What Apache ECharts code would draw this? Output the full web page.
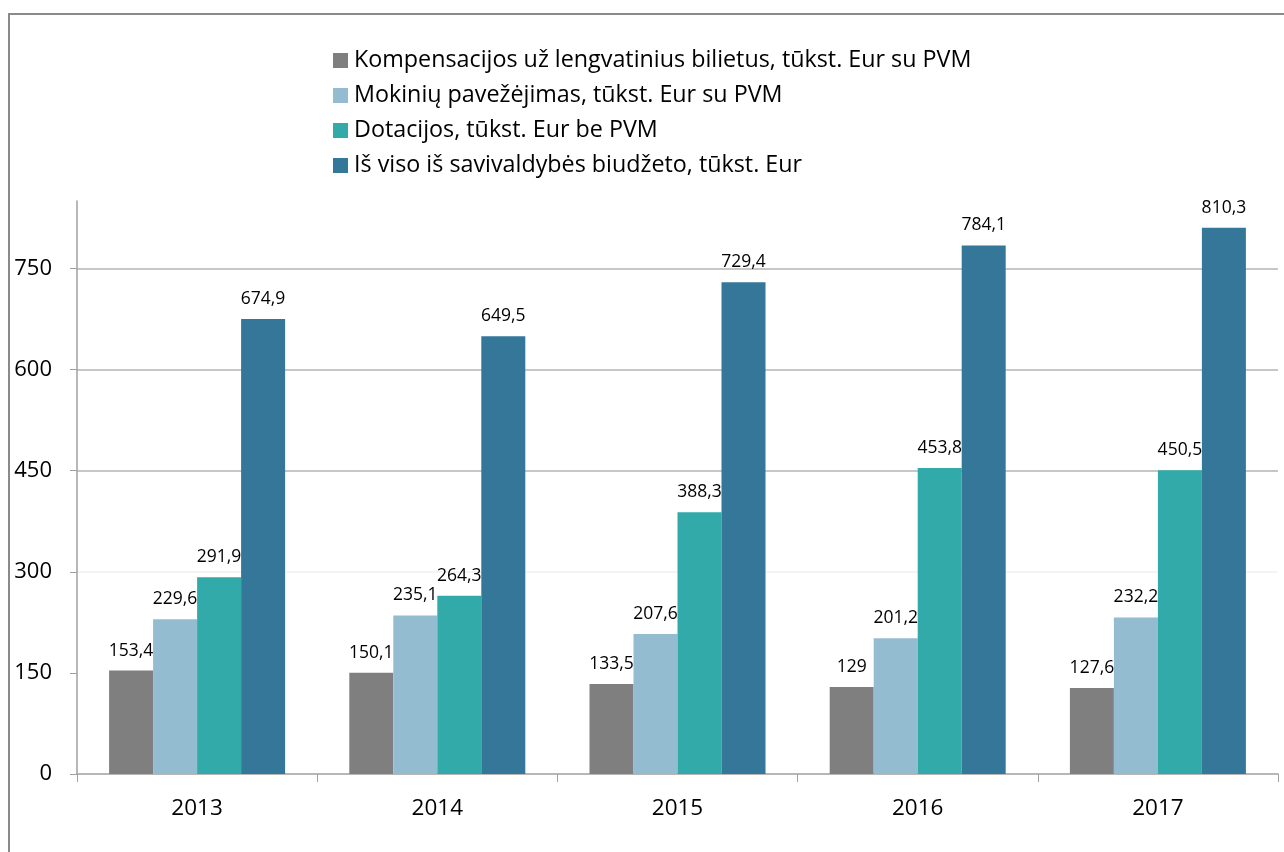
<!DOCTYPE html>
<html>
<head>
<meta charset="utf-8">
<script src="https://cdn.jsdelivr.net/npm/echarts@6/dist/echarts.min.js"></script>
<style>
  html, body { margin: 0; padding: 0; background: #fff; }
  #main { width: 1284px; height: 852px; }
</style>
</head>
<body>
<div id="main"></div>
<script>
var myChart = echarts.init(document.getElementById('main'));

var years = ['2013', '2014', '2015', '2016', '2017'];
var seriesNames = [
  'Kompensacijos už lengvatinius bilietus, tūkst. Eur su PVM',
  'Mokinių pavežėjimas, tūkst. Eur su PVM',
  'Dotacijos, tūkst. Eur be PVM',
  'Iš viso iš savivaldybės biudžeto, tūkst. Eur'
];
var kompensacijos = [153.4, 150.1, 133.5, 129, 127.6];
var mokiniai = [229.6, 235.1, 207.6, 201.2, 232.2];
var dotacijos = [291.9, 264.3, 388.3, 453.8, 450.5];
var isViso = [674.9, 649.5, 729.4, 784.1, 810.3];
var colors = ['#7f7f7f', '#94bcd0', '#33aaaa', '#347799'];

var fontName = '"Open Sans"';

function makeSeries(name, data, color) {
  return {
    name: name,
    type: 'bar',
    data: data,
    barWidth: 44,
    barGap: '0%',
    itemStyle: { color: color },
    label: {
      show: true,
      position: 'top',
      distance: 11,
      color: '#000',
      fontFamily: fontName,
      fontSize: 17.5,
      formatter: function (p) {
        return String(p.value).replace('.', ',');
      }
    }
  };
}

option = {
  animation: false,
  color: colors,
  textStyle: { fontFamily: fontName },
  graphic: [
    {
      type: 'rect',
      shape: { x: 9, y: 14, width: 1300, height: 900 },
      style: { fill: 'none', stroke: '#8a8a8a', lineWidth: 2 },
      silent: true
    }
  ],
  legend: {
    orient: 'vertical',
    left: 328,
    top: 44,
    itemWidth: 15,
    itemHeight: 15,
    itemGap: 12,
    icon: 'rect',
    textStyle: {
      fontFamily: fontName,
      fontSize: 23.3,
      lineHeight: 23,
      color: '#000',
      padding: [0, 0, 0, 1]
    },
    data: seriesNames
  },
  grid: {
    left: 77,
    right: 6,
    top: 201,
    bottom: 78,
    containLabel: false
  },
  xAxis: {
    type: 'category',
    data: years,
    axisLine: { lineStyle: { color: '#a0a0a0', width: 1.5 } },
    axisTick: { show: true, length: 8, lineStyle: { color: '#a0a0a0' } },
    axisLabel: {
      margin: 23,
      color: '#000',
      fontFamily: fontName,
      fontSize: 22.5
    }
  },
  yAxis: {
    type: 'value',
    min: 0,
    max: 850,
    interval: 150,
    axisLine: { show: true, lineStyle: { color: '#a0a0a0', width: 1.5 } },
    axisTick: { show: true, length: 7, lineStyle: { color: '#a0a0a0' } },
    axisLabel: {
      margin: 25,
      color: '#000',
      fontFamily: fontName,
      fontSize: 22,
      showMaxLabel: false
    },
    splitLine: {
      show: true,
      showMaxLine: false,
      lineStyle: {
        width: 1.5,
        color: ['rgba(0,0,0,0)', 'rgba(0,0,0,0)', '#f0f0f0', '#b4b4b4', '#b4b4b4', '#b4b4b4', 'rgba(0,0,0,0)']
      }
    }
  },
  series: [
    makeSeries(seriesNames[0], kompensacijos, colors[0]),
    makeSeries(seriesNames[1], mokiniai, colors[1]),
    makeSeries(seriesNames[2], dotacijos, colors[2]),
    makeSeries(seriesNames[3], isViso, colors[3])
  ]
};

myChart.setOption(option);
</script>
</body>
</html>
